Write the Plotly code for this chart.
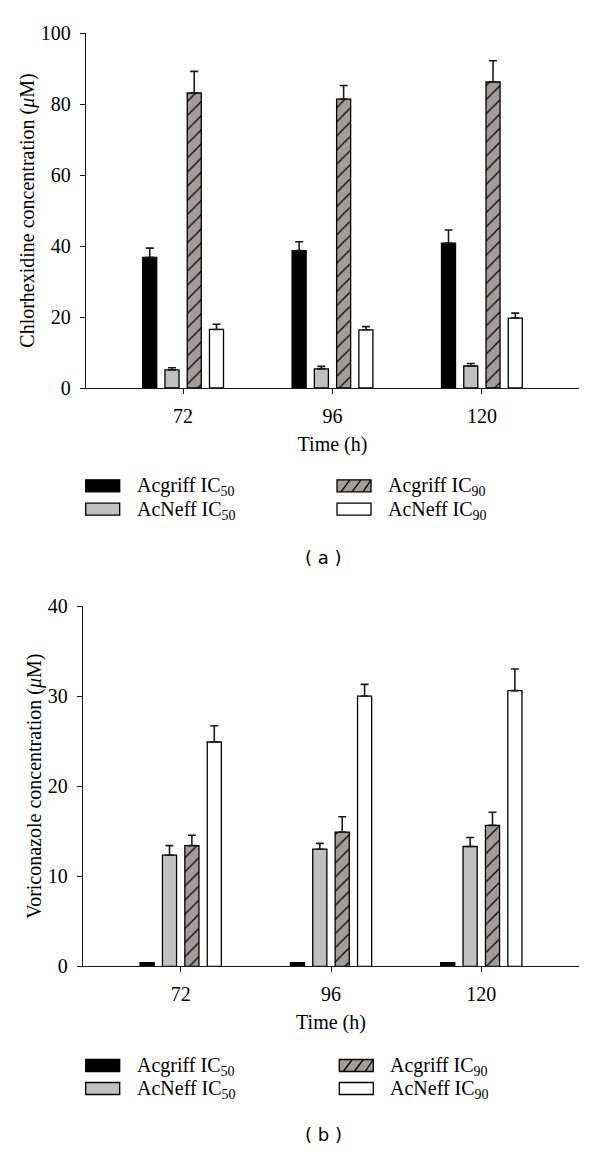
import plotly.graph_objects as go

# ---------------- data ----------------
times = ["72", "96", "120"]
series_names = ["Acgriff IC<sub>50</sub>", "AcNeff IC<sub>50</sub>",
                "Acgriff IC<sub>90</sub>", "AcNeff IC<sub>90</sub>"]

# (a) Chlorhexidine
chx_acgriff_ic50 = [36.8, 38.7, 40.8]
chx_acgriff_ic50_err = [2.6, 2.5, 3.7]
chx_acneff_ic50 = [5.1, 5.4, 6.2]
chx_acneff_ic50_err = [0.6, 0.7, 0.7]
chx_acgriff_ic90 = [83.1, 81.4, 86.2]
chx_acgriff_ic90_err = [6.1, 3.8, 6.0]
chx_acneff_ic90 = [16.5, 16.4, 19.7]
chx_acneff_ic90_err = [1.45, 0.9, 1.4]

# (b) Voriconazole
vor_acgriff_ic50 = [0.4, 0.4, 0.4]
vor_acgriff_ic50_err = [0.0, 0.0, 0.0]
vor_acneff_ic50 = [12.35, 13.0, 13.3]
vor_acneff_ic50_err = [1.05, 0.65, 1.0]
vor_acgriff_ic90 = [13.4, 14.9, 15.65]
vor_acgriff_ic90_err = [1.15, 1.7, 1.45]
vor_acneff_ic90 = [24.9, 30.0, 30.6]
vor_acneff_ic90_err = [1.8, 1.3, 2.4]

chx_y_ticks = [0, 20, 40, 60, 80, 100]
vor_y_ticks = [0, 10, 20, 30, 40]

# ---------------- styling ----------------
# page body has an 8px margin: figure is sized to fit inside it
OFF = 8
W, H = 600 - OFF, 1154 - 2 * OFF
SERIF = "Liberation Serif"
FS = 20
BLACK = "#000000"
GRAY = "#c0c0c0"
HATCH_BG = "#a29c9c"
AXIS_COL = "#1a1a1a"

styles = [
    dict(color=BLACK),
    dict(color=GRAY),
    dict(color=HATCH_BG, pattern=dict(shape="/", fgcolor=BLACK, bgcolor=HATCH_BG,
                                      size=10, solidity=0.12, fillmode="replace")),
    dict(color="#ffffff"),
]


def px(x):
    return (x - OFF) / W


def py(y):
    return 1 - (y - OFF) / H


fig = go.Figure()

panels = [
    ("x", "y", [chx_acgriff_ic50, chx_acneff_ic50, chx_acgriff_ic90, chx_acneff_ic90],
     [chx_acgriff_ic50_err, chx_acneff_ic50_err, chx_acgriff_ic90_err, chx_acneff_ic90_err]),
    ("x2", "y2", [vor_acgriff_ic50, vor_acneff_ic50, vor_acgriff_ic90, vor_acneff_ic90],
     [vor_acgriff_ic50_err, vor_acneff_ic50_err, vor_acgriff_ic90_err, vor_acneff_ic90_err]),
]

for xa, ya, vals, errs in panels:
    for i in range(4):
        fig.add_trace(go.Bar(
            x=times, y=vals[i], xaxis=xa, yaxis=ya,
            name=series_names[i], showlegend=False,
            offsetgroup=str(i),
            marker=dict(**styles[i], line=dict(color=BLACK, width=1.3)),
            error_y=dict(type="data", symmetric=False, array=errs[i],
                         arrayminus=[0] * len(errs[i]),
                         color=AXIS_COL, thickness=1.6, width=4,
                         visible=any(e > 0 for e in errs[i])),
        ))

axis_common = dict(showline=True, linecolor=AXIS_COL, linewidth=1.3,
                   ticks="outside", ticklen=5, tickcolor=AXIS_COL, tickwidth=1.3,
                   showgrid=False, zeroline=False, automargin=False,
                   tickfont=dict(family=SERIF, size=FS, color=BLACK))

xd1 = [px(86), px(579)]
xd2 = [px(83), px(579)]
yd1 = [py(388), py(33)]
yd2 = [py(966.3), py(606)]

title_font = dict(family=SERIF, size=FS, color=BLACK)

fig.update_layout(
    width=W, height=H,
    margin=dict(l=0, r=0, t=0, b=0),
    paper_bgcolor="white", plot_bgcolor="white",
    barmode="group", bargap=0.404, bargroupgap=0.37,
    showlegend=False,
    xaxis=dict(**axis_common, domain=xd1, anchor="y", type="category",
               range=[-0.65, 2.65], ticklabelstandoff=5,
               title=dict(text="Time (h)", font=title_font, standoff=10)),
    yaxis=dict(**axis_common, domain=yd1, anchor="x", range=[0, 100],
               tickvals=chx_y_ticks, ticklabelstandoff=5,
               title=dict(text="Chlorhexidine concentration (<i>μ</i>M)",
                          font=title_font, standoff=0)),
    xaxis2=dict(**axis_common, domain=xd2, anchor="y2", type="category",
                range=[-0.65, 2.65], ticklabelstandoff=5,
                title=dict(text="Time (h)", font=title_font, standoff=10)),
    yaxis2=dict(**axis_common, domain=yd2, anchor="x2", range=[0, 40],
                tickvals=vor_y_ticks, ticklabelstandoff=5,
                title=dict(text="Voriconazole concentration (<i>μ</i>M)",
                           font=title_font, standoff=0)),
)

# ---------------- custom legends ----------------
shapes = []
annotations = []


def legend_item(kind, x0, yc, label, text_x):
    w, h = 34, 12
    y0, y1 = yc - h / 2, yc + h / 2
    fill = {0: BLACK, 1: GRAY, 2: HATCH_BG, 3: "#ffffff"}[kind]
    shapes.append(dict(type="rect", xref="paper", yref="paper",
                       x0=px(x0), x1=px(x0 + w), y0=py(y1), y1=py(y0),
                       fillcolor=fill, line=dict(color=BLACK, width=1.3)))
    if kind == 2:
        for k in range(3):
            a = x0 + 4 + k * 11
            shapes.append(dict(type="line", xref="paper", yref="paper",
                               x0=px(a), y0=py(y1), x1=px(min(a + 9, x0 + w)), y1=py(y0),
                               line=dict(color=BLACK, width=1.3)))
    annotations.append(dict(text=label, xref="paper", yref="paper",
                            x=px(text_x), y=py(yc + 1), xanchor="left", yanchor="middle",
                            showarrow=False, font=dict(family=SERIF, size=FS, color=BLACK)))


for (r1, r2, tx_l, tx_r, sx_r) in [(485.8, 509.2, 135, 385.7, 337),
                                   (1065.5, 1088.5, 135, 388.3, 339.3)]:
    legend_item(0, 85.7, r1, series_names[0], tx_l)
    legend_item(1, 85.7, r2, series_names[1], tx_l)
    legend_item(2, sx_r, r1, series_names[2], tx_r)
    legend_item(3, sx_r, r2, series_names[3], tx_r)

for lab, yc in [("( a )", 557), ("( b )", 1134)]:
    annotations.append(dict(text=lab, xref="paper", yref="paper", x=px(323), y=py(yc),
                            xanchor="center", yanchor="middle", showarrow=False,
                            borderpad=0,
                            font=dict(family="DejaVu Sans", size=18, color=BLACK)))

fig.update_layout(shapes=shapes, annotations=annotations)

fig.write_html("out.html")
